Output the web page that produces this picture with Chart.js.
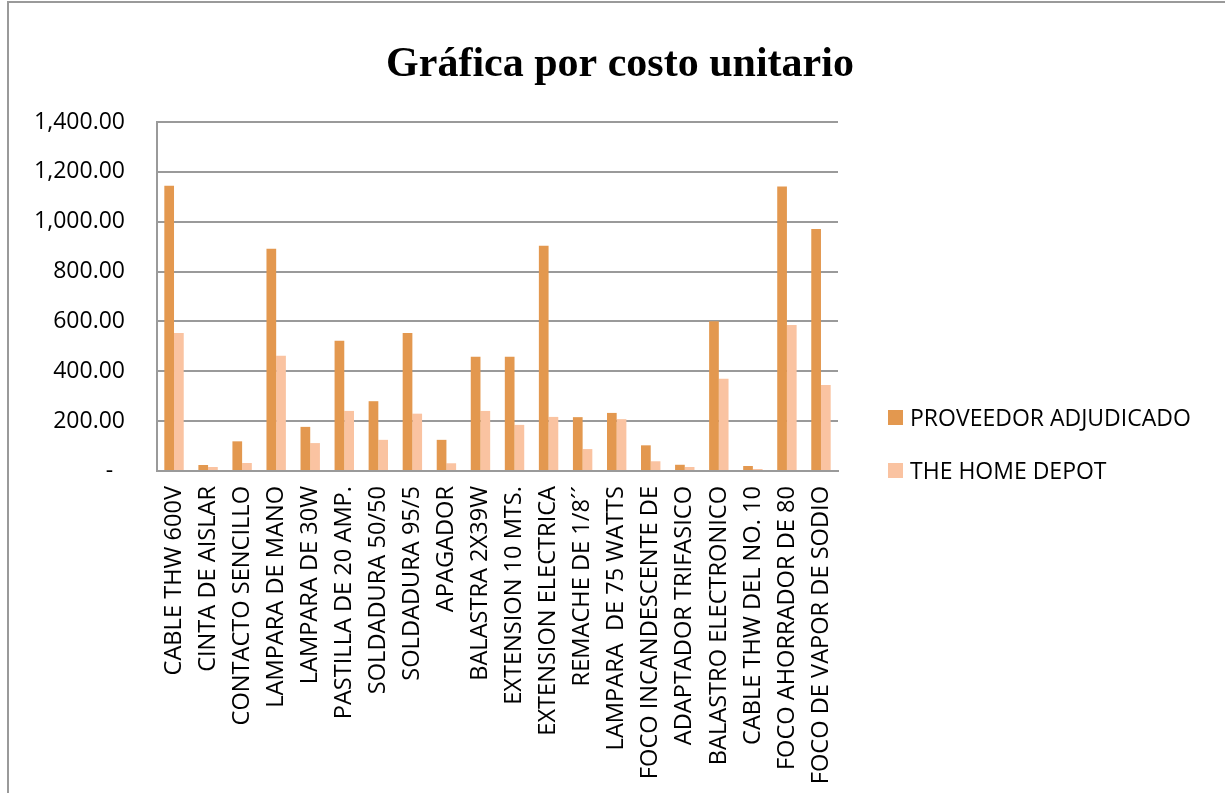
<!DOCTYPE html>
<html>
<head>
<meta charset="utf-8">
<script src="https://cdn.jsdelivr.net/npm/chart.js@4/dist/chart.umd.min.js"></script>
<style>
  html, body { margin: 0; padding: 0; background: #fff; overflow: hidden; }
  #wrap { position: absolute; left: 0; top: 0; width: 1225px; height: 793px; }
</style>
</head>
<body>
<div id="wrap"><canvas id="c" width="1225" height="793"></canvas></div>
<script>
const categories = [
  "CABLE THW 600V", "CINTA DE AISLAR", "CONTACTO SENCILLO", "LAMPARA DE MANO",
  "LAMPARA DE 30W", "PASTILLA DE 20 AMP.", "SOLDADURA 50/50", "SOLDADURA 95/5",
  "APAGADOR", "BALASTRA 2X39W", "EXTENSION 10 MTS.", "EXTENSION ELECTRICA",
  "REMACHE DE 1/8\u00B4\u00B4", "LAMPARA  DE 75 WATTS", "FOCO INCANDESCENTE DE",
  "ADAPTADOR TRIFASICO", "BALASTRO ELECTRONICO", "CABLE THW DEL NO. 10",
  "FOCO AHORRADOR DE 80", "FOCO DE VAPOR DE SODIO"
];
const proveedorAdjudicado = [1144, 24, 119, 892, 177, 522, 280, 554, 125, 458, 458, 904, 216, 233, 103, 25, 601, 20, 1141, 971];
const theHomeDepot = [554, 16, 32, 462, 112, 241, 125, 230, 31, 241, 185, 217, 88, 208, 39, 16, 370, 8, 586, 345];
const seriesNames = ["PROVEEDOR ADJUDICADO", "THE HOME DEPOT"];
const titleText = "Gráfica por costo unitario";
const yMin = 0, yMax = 1400, yStep = 200;

const FONT = "'Open Sans', 'Liberation Sans', sans-serif";

const frame = {
  id: 'frame',
  beforeDraw(chart) {
    const ctx = chart.ctx;
    ctx.save();
    ctx.strokeStyle = '#9a9a9a';
    ctx.lineWidth = 2;
    ctx.beginPath();
    ctx.moveTo(8, 793);
    ctx.lineTo(8, 2);
    ctx.lineTo(1225, 2);
    ctx.stroke();
    ctx.restore();
  }
};

const chartTitle = {
  id: 'chartTitle',
  afterDraw(chart) {
    const ctx = chart.ctx;
    ctx.save();
    ctx.font = "bold 42px 'Liberation Serif', 'Times New Roman', serif";
    ctx.fillStyle = '#000';
    ctx.textAlign = 'center';
    ctx.textBaseline = 'alphabetic';
    ctx.fillText(titleText, 620, 76);
    ctx.restore();
  }
};

const sideLegend = {
  id: 'sideLegend',
  afterDraw(chart) {
    const ctx = chart.ctx;
    ctx.save();
    ctx.font = "23px " + FONT;
    ctx.textBaseline = 'middle';
    ctx.textAlign = 'left';
    const ys = [418, 471];
    chart.data.datasets.forEach((ds, i) => {
      const y = ys[i];
      ctx.fillStyle = ds.backgroundColor;
      ctx.fillRect(888, y - 8, 15, 15);
      ctx.fillStyle = '#000';
      ctx.fillText(ds.label, 910, y + 1);
    });
    ctx.restore();
  }
};

new Chart(document.getElementById('c'), {
  type: 'bar',
  data: {
    labels: categories,
    datasets: [
      { label: seriesNames[0], data: proveedorAdjudicado, backgroundColor: '#E3984F' },
      { label: seriesNames[1], data: theHomeDepot, backgroundColor: '#FAC3A1' }
    ]
  },
  options: {
    responsive: false,
    animation: false,
    devicePixelRatio: 1,
    categoryPercentage: 0.57,
    barPercentage: 1.0,
    layout: { padding: { left: 20, right: 387, top: 122, bottom: 0 } },
    plugins: {
      legend: { display: false },
      tooltip: { enabled: false },
      title: { display: false }
    },
    scales: {
      x: {
        grid: { display: false, drawTicks: false },
        border: { color: '#9a9a9a', width: 2 },
        ticks: {
          color: '#000',
          font: { family: FONT, size: 23.6 },
          maxRotation: 90, minRotation: 90,
          autoSkip: false,
          padding: 15
        },
        afterFit(scale) { scale.height = 793 - 471; }
      },
      y: {
        min: yMin, max: yMax,
        grid: { color: '#9a9a9a', lineWidth: 2, drawTicks: false },
        border: { color: '#9a9a9a', width: 2 },
        ticks: {
          stepSize: yStep,
          color: '#000',
          font: { family: FONT, size: 23 },
          padding: 32,
          callback(v) {
            if (v === 0) return '-  ';
            return v.toLocaleString('en-US', { minimumFractionDigits: 2, maximumFractionDigits: 2 });
          }
        },
        afterFit(scale) { scale.width = 157 - 20; }
      }
    }
  },
  plugins: [frame, chartTitle, sideLegend]
});
</script>
</body>
</html>
